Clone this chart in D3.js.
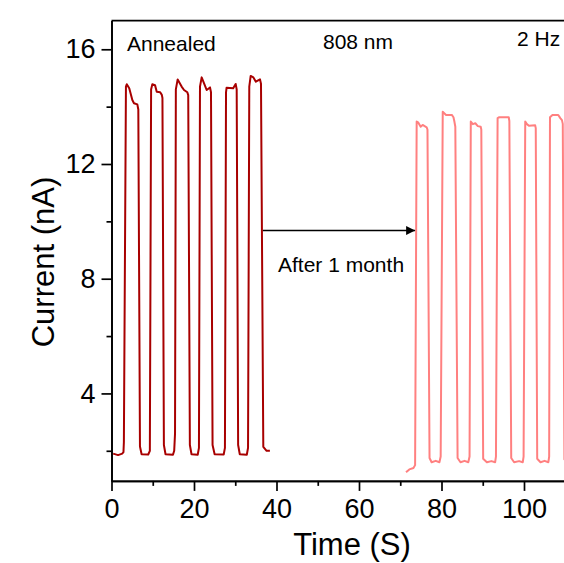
<!DOCTYPE html>
<html>
<head>
<meta charset="utf-8">
<script src="https://cdn.jsdelivr.net/npm/d3@7"></script>
<style>
  html, body { margin: 0; padding: 0; background: #fff; }
  svg { display: block; }
  text { font-family: "Liberation Sans", Arial, sans-serif; fill: #000; }
</style>
</head>
<body>
<svg id="chart" width="564" height="563"></svg>
<script>
// Photocurrent switching, annealed device (fresh) and after 1 month
const annealedTime = [0.4, 1.6, 2.6, 2.9, 3.0, 3.5, 3.7, 4.3, 5.05, 5.45, 6.26, 6.5, 6.9, 7.3, 8.9, 9.3, 9.6, 9.9, 10.55, 10.97, 11.8, 12.2, 12.35, 12.7, 13.1, 14.9, 15.2, 15.4, 15.6, 16.04, 17.0, 17.58, 18.38, 18.6, 19.0, 19.4, 20.9, 21.2, 21.45, 21.86, 22.75, 23.07, 23.88, 24.12, 24.5, 25.0, 27.2, 27.5, 27.76, 27.9, 29.5, 30.1, 30.35, 30.7, 31.1, 32.8, 33.1, 33.4, 33.74, 34.4, 35.0, 36.0, 36.24, 36.8, 37.6, 38.4];
const annealedCurrent = [1.9, 1.85, 1.9, 1.95, 2.3, 14.7, 14.78, 14.64, 14.23, 14.12, 14.08, 13.9, 2.15, 1.88, 1.87, 2.0, 14.6, 14.78, 14.75, 14.52, 14.5, 14.41, 14.3, 2.2, 1.88, 1.86, 2.0, 2.6, 14.6, 14.95, 14.7, 14.58, 14.5, 14.4, 2.2, 1.88, 1.86, 2.1, 14.7, 15.02, 14.7, 14.58, 14.67, 14.5, 2.2, 1.88, 1.87, 2.1, 14.5, 14.66, 14.64, 14.79, 14.6, 2.2, 1.88, 1.86, 2.1, 14.7, 15.07, 15.02, 14.87, 14.95, 14.8, 2.14, 2.0, 2.0];

const agedTime = [71.4, 72.2, 73.2, 73.6, 73.98, 74.39, 74.95, 75.43, 76.4, 76.6, 77.1, 77.6, 78.6, 79.5, 79.8, 80.3, 80.6, 81.1, 82.5, 82.9, 83.1, 83.35, 83.9, 84.6, 85.6, 86.5, 86.8, 87.1, 87.6, 88.2, 88.8, 89.5, 89.65, 90.1, 91.0, 92.1, 93.0, 93.2, 93.6, 94.0, 96.3, 96.45, 96.9, 97.6, 98.8, 99.7, 99.9, 100.3, 100.7, 101.2, 102.7, 102.85, 103.2, 104.0, 105.0, 105.9, 106.1, 106.3, 106.9, 108.3, 108.8, 109.2, 109.4, 109.8, 111.0];
const agedCurrent = [1.25, 1.35, 1.4, 1.5, 13.48, 13.44, 13.3, 13.36, 13.28, 13.2, 1.75, 1.6, 1.65, 1.6, 1.8, 13.82, 13.78, 13.71, 13.71, 13.63, 13.5, 13.3, 1.75, 1.6, 1.65, 1.6, 1.8, 13.48, 13.39, 13.42, 13.32, 13.3, 13.2, 1.72, 1.6, 1.64, 1.6, 1.8, 13.6, 13.63, 13.63, 13.5, 1.75, 1.6, 1.64, 1.6, 1.8, 13.48, 13.39, 13.33, 13.35, 13.25, 1.72, 1.6, 1.65, 1.6, 1.8, 13.63, 13.71, 13.71, 13.6, 13.53, 13.4, 1.7, 1.65];

const xMajorTicks = [0, 20, 40, 60, 80, 100];
const xMinorTicks = [10, 30, 50, 70, 90, 110];
const yMajorTicks = [4, 8, 12, 16];
const yMinorTicks = [2, 6, 10, 14];

const annealedColor = "#a80000";
const agedColor = "#ff8080";

const svg = d3.select("#chart");

// The frame runs past the right edge of the drawing
const x = d3.scaleLinear().domain([0, 112]).range([111.5, 111.5 + 112 * 4.125]);
const y = d3.scaleLinear().domain([0.95, 17]).range([480.9, 20.6]);

const axisStroke = 1.7;

// Curves
const line = d3.line().x(d => x(d[0])).y(d => y(d[1]));
const annealed = annealedTime.map((t, i) => [t, annealedCurrent[i]]);
const aged = agedTime.map((t, i) => [t, agedCurrent[i]]);

svg.append("path").datum(annealed)
  .attr("d", line).attr("fill", "none")
  .attr("stroke", annealedColor).attr("stroke-width", 2)
  .attr("stroke-linejoin", "round");

svg.append("path").datum(aged)
  .attr("d", line).attr("fill", "none")
  .attr("stroke", agedColor).attr("stroke-width", 2)
  .attr("stroke-linejoin", "round");

// Axes
const xAxis = svg.append("g").attr("transform", `translate(0,${y(0.95)})`)
  .call(d3.axisBottom(x).tickValues(xMajorTicks).tickSize(10).tickSizeOuter(0).tickPadding(8));
const xMinor = svg.append("g").attr("transform", `translate(0,${y(0.95)})`)
  .call(d3.axisBottom(x).tickValues(xMinorTicks).tickSize(5).tickSizeOuter(0).tickFormat(""));
const yAxis = svg.append("g").attr("transform", `translate(${x(0)},0)`)
  .call(d3.axisLeft(y).tickValues(yMajorTicks).tickSize(10).tickSizeOuter(0).tickPadding(6));
const yMinor = svg.append("g").attr("transform", `translate(${x(0)},0)`)
  .call(d3.axisLeft(y).tickValues(yMinorTicks).tickSize(5).tickSizeOuter(0).tickFormat(""));

[xAxis, xMinor, yAxis, yMinor].forEach(g => {
  g.selectAll("path.domain").attr("stroke", "#000").attr("stroke-width", axisStroke);
  g.selectAll(".tick line").attr("stroke", "#000").attr("stroke-width", axisStroke);
});
xAxis.selectAll(".tick text").attr("font-size", 27).attr("font-family", "Liberation Sans, Arial, sans-serif");
yAxis.selectAll(".tick text").attr("font-size", 27).attr("font-family", "Liberation Sans, Arial, sans-serif");

// Top border of the frame
svg.append("line")
  .attr("x1", x(0)).attr("x2", x(112))
  .attr("y1", y(17)).attr("y2", y(17))
  .attr("stroke", "#000").attr("stroke-width", axisStroke);

// Axis titles
svg.append("text")
  .attr("x", 352).attr("y", 555)
  .attr("text-anchor", "middle").attr("font-size", 31)
  .text("Time (S)");

svg.append("text")
  .attr("transform", "translate(54,262) rotate(-90)")
  .attr("text-anchor", "middle").attr("font-size", 31)
  .text("Current (nA)");

// Annotations
svg.append("text").attr("x", 127).attr("y", 50.5).attr("font-size", 21).text("Annealed");
svg.append("text").attr("x", 323).attr("y", 48.5).attr("font-size", 21).text("808 nm");
svg.append("text").attr("x", 517).attr("y", 46).attr("font-size", 21).text("2 Hz");
svg.append("text").attr("x", 278).attr("y", 272).attr("font-size", 21).text("After 1 month");

// Arrow from the fresh response to the aged one
svg.append("defs").append("marker")
  .attr("id", "arrowHead")
  .attr("viewBox", "0 0 10 10")
  .attr("refX", 10).attr("refY", 5)
  .attr("markerUnits", "userSpaceOnUse")
  .attr("markerWidth", 13).attr("markerHeight", 9)
  .attr("orient", "auto")
  .append("path").attr("d", "M0,0 L10,5 L0,10 Z").attr("fill", "#000");

svg.append("line")
  .attr("x1", x(36.7)).attr("x2", x(73.6))
  .attr("y1", y(9.68)).attr("y2", y(9.68))
  .attr("stroke", "#000").attr("stroke-width", 1.6)
  .attr("marker-end", "url(#arrowHead)");
</script>
</body>
</html>
